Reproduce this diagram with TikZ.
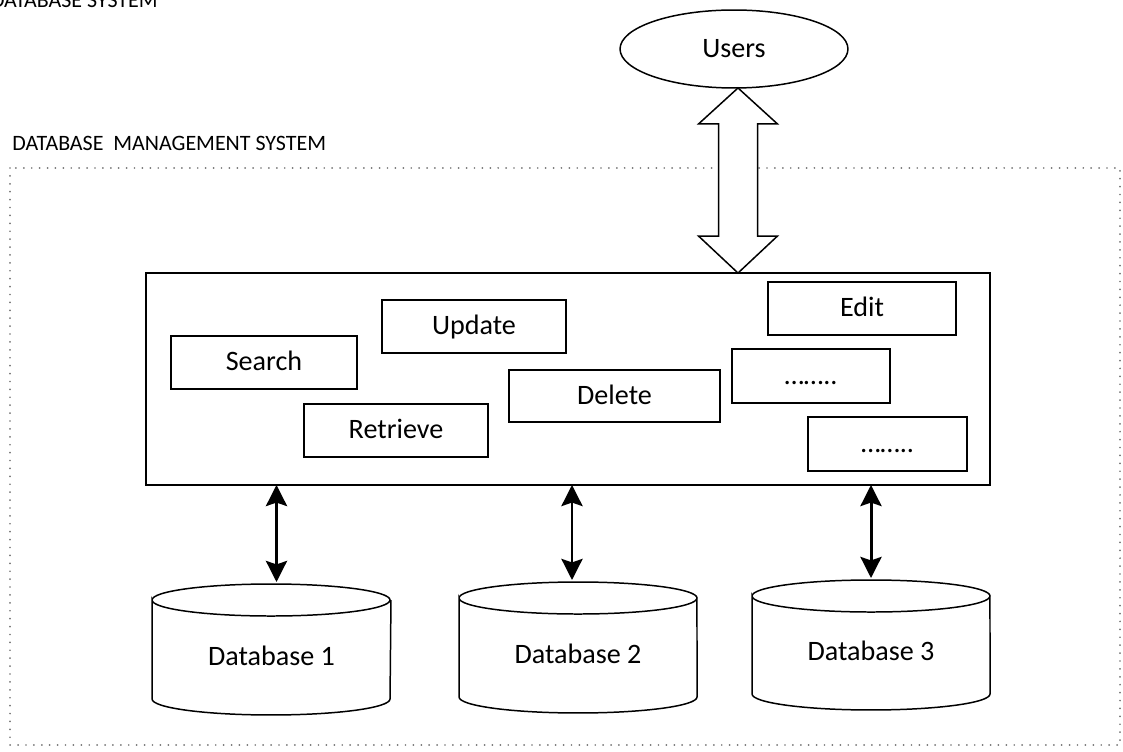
\documentclass[tikz,border=0pt]{standalone}
\usepackage{fontspec}
\setmainfont{Carlito}
\usetikzlibrary{calc,shapes.geometric,arrows.meta}
\newcommand\dbdrum[1]{%
  \draw[line width=0.85pt] ($(#1.north west)+(0,-16)$) arc[start angle=180,end angle=-180,x radius=119,y radius=16]
    -- ($(#1.south west)+(0,16)$) arc[start angle=180,end angle=360,x radius=119,y radius=16]
    -- ($(#1.north east)+(0,-16)$);}
\begin{document}
\begin{tikzpicture}[x=0.02cm,y=0.02cm,line join=miter,
    op/.style={draw,line width=0.85pt,outer sep=0pt,inner sep=0pt,font=\fontsize{16}{19}\selectfont,text height=2.3ex,text depth=.3ex},
    db/.style={outer sep=0pt,inner sep=0pt,font=\fontsize{16}{19}\selectfont,text height=4.1ex,text depth=.3ex},
    dbarrow/.style={{Stealth[length=12pt,width=12pt,inset=2pt]}-{Stealth[length=12pt,width=12pt,inset=2pt]},line width=1.7pt},
    caption/.style={font=\fontsize{12.5}{15}\selectfont,inner sep=0pt}]
  \useasboundingbox (0,0) rectangle (1123,751);
  \node[caption,anchor=base east] (sys) at (158,743) {DATABASE SYSTEM};
  \node[caption,anchor=base west] (dbms) at (12,600) {DATABASE\ \ MANAGEMENT SYSTEM};
  % dbms frame
  \draw[gray!90!black,line width=1.1pt,line cap=round,dash pattern=on 0pt off 4.5pt] (10,583) rectangle (1120,6);
  \node[draw,ellipse,line width=0.85pt,minimum width=4.56cm,minimum height=1.56cm,inner sep=0pt,outer sep=0pt,font=\fontsize{16}{19}\selectfont] (users) at (734,702) {Users};
  \node[draw,line width=0.9pt,minimum width=16.88cm,minimum height=4.24cm,outer sep=0pt] (main) at (568,372) {};
  % operations
  \node[op,minimum width=3.72cm,minimum height=1.06cm] (search) at (264,388.5) {Search};
  \node[op,minimum width=3.68cm,minimum height=1.06cm] (update) at (474,424.5) {Update};
  \node[op,minimum width=3.68cm,minimum height=1.06cm] (retrieve) at (396,320.5) {Retrieve};
  \node[op,minimum width=4.22cm,minimum height=1.04cm] (delete) at (614.5,355) {Delete};
  \node[op,minimum width=3.76cm,minimum height=1.06cm] (edit) at (862,442.5) {Edit};
  \node[op,minimum width=3.16cm,minimum height=1.08cm] (more1) at (811,375) {……..};
  \node[op,minimum width=3.18cm,minimum height=1.08cm] (more2) at (887.5,307) {……..};
  % block arrow users <-> dbms
  \coordinate (ut) at ($(users.south)+(4,0)$);
  \coordinate (mb) at (ut |- main.north);
  \draw[line width=0.85pt,fill=white] (ut) -- ++(39.5,-36) -- ++(-20,0) -- ($(mb)+(19.5,37)$) -- ++(20,0) -- (mb)
    -- ++(-39.5,37) -- ++(20,0) -- ($(ut)+(-19.5,-36)$) -- ++(-20,0) -- cycle;
  % databases
  \node[db,minimum width=4.78cm,minimum height=2.62cm] (db1) at (271.5,101.5) {Database 1};
  \node[db,minimum width=4.76cm,minimum height=2.62cm] (db2) at (578,103.5) {Database 2};
  \node[db,minimum width=4.76cm,minimum height=2.6cm] (db3) at (871,106) {Database 3};
  \dbdrum{db1} \dbdrum{db2} \dbdrum{db3}
  \foreach \d/\dx in {db1/5,db2/-6,db3/0}
    \draw[dbarrow] ($(\d.north)+(\dx,2)$) coordinate (t) -- (t |- main.south);
\end{tikzpicture}
\end{document}
